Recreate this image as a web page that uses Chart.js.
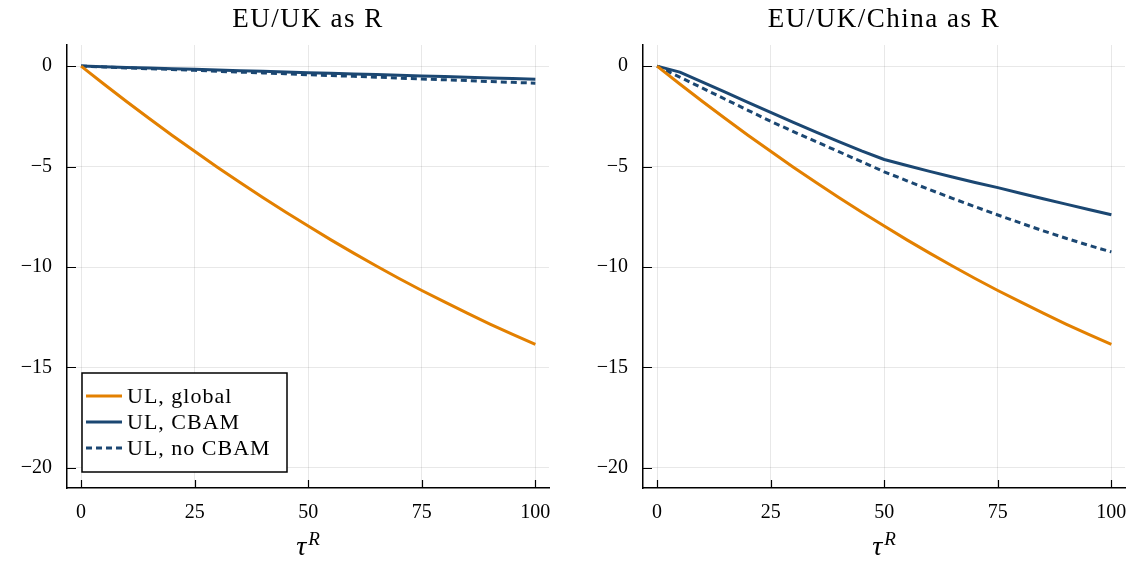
<!DOCTYPE html>
<html>
<head>
<meta charset="utf-8">
<script src="https://cdn.jsdelivr.net/npm/chart.js@4"></script>
<style>
  body { margin: 0; background: #fff; }
  #wrap { position: relative; width: 1136px; height: 562px; }
  canvas { position: absolute; top: 0; }
</style>
</head>
<body>
<div id="wrap">
  <canvas id="left" width="568" height="562" style="left:0"></canvas>
  <canvas id="right" width="568" height="562" style="left:568px"></canvas>
</div>
<script>
// tau^R grid (x values)
const taus = [0, 5, 10, 15, 20, 25, 30, 35, 40, 45, 50, 55, 60, 65, 70, 75, 80, 85, 90, 95, 100];

// panel 1: EU/UK as R
const leftGlobal = [0, -0.89, -1.76, -2.61, -3.44, -4.24, -5.03, -5.79, -6.54, -7.26, -7.96, -8.65, -9.31, -9.95, -10.57, -11.17, -11.74, -12.30, -12.84, -13.35, -13.85];
const leftCbam = [0, -0.03, -0.07, -0.10, -0.13, -0.16, -0.20, -0.23, -0.26, -0.29, -0.33, -0.36, -0.39, -0.42, -0.46, -0.49, -0.52, -0.55, -0.59, -0.62, -0.65];
const leftNoCbam = [0, -0.04, -0.09, -0.13, -0.17, -0.21, -0.26, -0.30, -0.34, -0.38, -0.43, -0.47, -0.51, -0.55, -0.60, -0.64, -0.68, -0.72, -0.77, -0.81, -0.85];

// panel 2: EU/UK/China as R
const rightGlobal = [0, -0.89, -1.76, -2.61, -3.44, -4.24, -5.03, -5.79, -6.54, -7.26, -7.96, -8.65, -9.31, -9.95, -10.57, -11.17, -11.74, -12.30, -12.84, -13.35, -13.85];
const rightCbam = [0, -0.30, -0.80, -1.30, -1.80, -2.30, -2.80, -3.29, -3.76, -4.22, -4.65, -4.95, -5.24, -5.52, -5.79, -6.05, -6.33, -6.60, -6.87, -7.14, -7.40];
const rightNoCbam = [0, -0.55, -1.10, -1.65, -2.20, -2.75, -3.26, -3.76, -4.26, -4.76, -5.26, -5.71, -6.15, -6.58, -7.00, -7.41, -7.81, -8.20, -8.57, -8.92, -9.25];

const seriesLabels = ['UL, global', 'UL, CBAM', 'UL, no CBAM'];
const panelTitles = ['EU/UK as R', 'EU/UK/China as R'];
const xTicks = [0, 25, 50, 75, 100];
const yTicks = [-20, -15, -10, -5, 0];

const ORANGE = '#e38000';
const NAVY = '#1b4772';
const SERIF = '"Liberation Serif", "DejaVu Serif", serif';

function pts(ys) {
    return taus.map((t, i) => ({ x: t, y: ys[i] }));
}

// title, inward tick marks, x axis label, optional legend box
const decorPlugin = {
    id: 'decor',
    afterDraw(chart, args, opts) {
        const ctx = chart.ctx;
        const a = chart.chartArea;
        const xs = chart.scales.x, ys = chart.scales.y;
        ctx.save();

        // tick marks pointing into the plot
        ctx.strokeStyle = '#000';
        ctx.lineWidth = 1.2;
        ctx.beginPath();
        xTicks.forEach(v => {
            const px = Math.round(xs.getPixelForValue(v)) + 0.5;
            ctx.moveTo(px, a.bottom);
            ctx.lineTo(px, a.bottom - 8);
        });
        yTicks.forEach(v => {
            const py = Math.round(ys.getPixelForValue(v)) + 0.5;
            ctx.moveTo(a.left, py);
            ctx.lineTo(a.left + 9, py);
        });
        ctx.stroke();

        const cx = (a.left + a.right) / 2;

        // panel title
        ctx.fillStyle = '#000';
        ctx.font = '27px ' + SERIF;
        ctx.letterSpacing = '1.5px';
        ctx.textAlign = 'center';
        ctx.textBaseline = 'alphabetic';
        ctx.fillText(opts.title, cx, 27);
        ctx.letterSpacing = '0px';

        // x label: tau^R
        ctx.font = 'italic 28px ' + SERIF;
        const wt = ctx.measureText('τ').width;
        ctx.font = 'italic 19px ' + SERIF;
        const wr = ctx.measureText('R').width;
        const x0 = cx - (wt + wr + 2) / 2;
        ctx.textAlign = 'left';
        ctx.font = 'italic 28px ' + SERIF;
        ctx.fillText('τ', x0, 555);
        ctx.font = 'italic 19px ' + SERIF;
        ctx.fillText('R', x0 + wt + 2, 545);

        // legend
        if (opts.legend) {
            const lx = a.left + 15, ly = a.bottom - 115, lw = 205, lh = 99;
            ctx.fillStyle = '#fff';
            ctx.fillRect(lx, ly, lw, lh);
            ctx.strokeStyle = '#000';
            ctx.lineWidth = 1.5;
            ctx.strokeRect(lx, ly, lw, lh);
            chart.data.datasets.forEach((ds, i) => {
                const ry = ly + 23 + i * 26;
                ctx.strokeStyle = ds.borderColor;
                ctx.lineWidth = 3;
                ctx.setLineDash(ds.borderDash || []);
                ctx.beginPath();
                ctx.moveTo(lx + 4, ry);
                ctx.lineTo(lx + 40, ry);
                ctx.stroke();
                ctx.setLineDash([]);
                ctx.fillStyle = '#000';
                ctx.font = '22px ' + SERIF;
                ctx.letterSpacing = '1px';
                ctx.textBaseline = 'middle';
                ctx.fillText(ds.label, lx + 45, ry + 1);
                ctx.letterSpacing = '0px';
            });
        }
        ctx.restore();
    }
};

function makeChart(id, title, yG, yC, yN, yAxisWidth, padRight, withLegend) {
    return new Chart(document.getElementById(id), {
        type: 'line',
        data: {
            datasets: [
                { label: seriesLabels[0], data: pts(yG), borderColor: ORANGE, borderWidth: 3 },
                { label: seriesLabels[1], data: pts(yC), borderColor: NAVY, borderWidth: 3 },
                { label: seriesLabels[2], data: pts(yN), borderColor: NAVY, borderWidth: 3, borderDash: [6, 4] }
            ]
        },
        plugins: [decorPlugin],
        options: {
            responsive: false,
            animation: false,
            layout: { padding: { top: 45, right: padRight, left: 0, bottom: 0 } },
            elements: { point: { radius: 0 }, line: { tension: 0, borderCapStyle: 'butt', borderJoinStyle: 'round' } },
            plugins: {
                legend: { display: false },
                tooltip: { enabled: false },
                decor: { title: title, legend: withLegend }
            },
            scales: {
                x: {
                    type: 'linear',
                    min: -3.1, max: 103,
                    afterBuildTicks: s => { s.ticks = xTicks.map(v => ({ value: v })); },
                    afterFit: s => { s.height = 74; s.paddingLeft = 0; s.paddingRight = 0; },
                    grid: { color: 'rgba(0,0,0,0.09)', lineWidth: 1, drawTicks: false },
                    border: { color: '#000', width: 1.5 },
                    ticks: { color: '#000', padding: 13, maxRotation: 0, font: { family: SERIF, size: 20 } }
                },
                y: {
                    type: 'linear',
                    min: -21, max: 1.05,
                    afterBuildTicks: s => { s.ticks = yTicks.map(v => ({ value: v })); },
                    afterFit: s => { s.width = yAxisWidth; s.paddingTop = 0; s.paddingBottom = 0; },
                    grid: { color: 'rgba(0,0,0,0.09)', lineWidth: 1, drawTicks: false },
                    border: { color: '#000', width: 1.5 },
                    ticks: {
                        color: '#000', padding: 15,
                        font: { family: SERIF, size: 20 },
                        callback: v => v < 0 ? '\u2212' + Math.abs(v) : String(v)
                    }
                }
            }
        }
    });
}

makeChart('left', panelTitles[0], leftGlobal, leftCbam, leftNoCbam, 67, 19, true);
makeChart('right', panelTitles[1], rightGlobal, rightCbam, rightNoCbam, 75, 11, false);
</script>
</body>
</html>
